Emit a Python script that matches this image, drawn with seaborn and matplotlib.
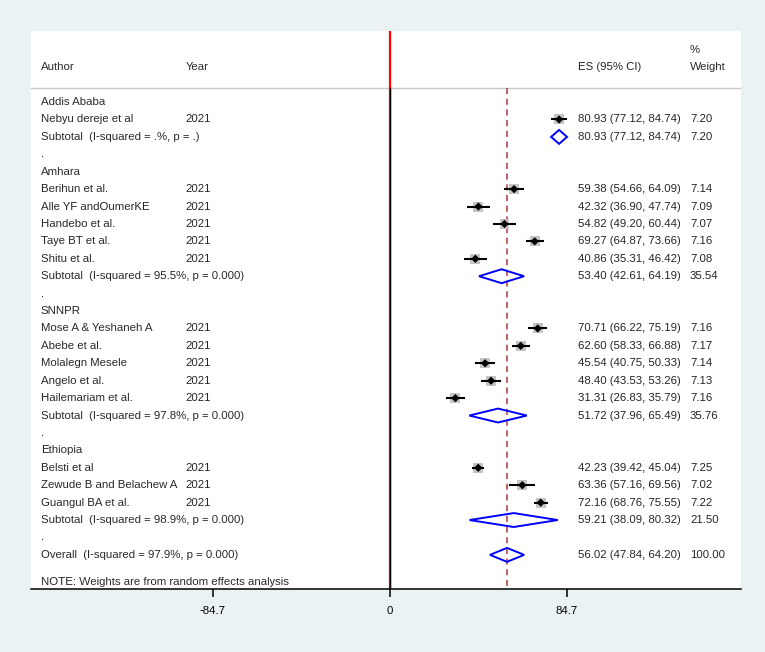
import matplotlib
matplotlib.use("Agg")
import matplotlib.pyplot as plt
from matplotlib.patches import Polygon
import numpy as np
import pandas as pd
import seaborn as sns

# === data ===
GROUPS = ["Addis Ababa", "Amhara", "SNNPR", "Ethiopia"]

STUDY_GROUP = [0, 1, 1, 1, 1, 1, 2, 2, 2, 2, 2, 3, 3, 3]
STUDY_AUTHOR = ["Nebyu dereje et al",
                "Berihun et al.", "Alle YF andOumerKE", "Handebo et al.", "Taye BT et al.", "Shitu et al.",
                "Mose A & Yeshaneh A", "Abebe et al.", "Molalegn Mesele", "Angelo et al.", "Hailemariam et al.",
                "Belsti et al", "Zewude B and Belachew A", "Guangul BA et al."]
STUDY_YEAR = ["2021"] * 14
STUDY_ES = [80.93, 59.38, 42.32, 54.82, 69.27, 40.86, 70.71, 62.60, 45.54, 48.40, 31.31, 42.23, 63.36, 72.16]
STUDY_LO = [77.12, 54.66, 36.90, 49.20, 64.87, 35.31, 66.22, 58.33, 40.75, 43.53, 26.83, 39.42, 57.16, 68.76]
STUDY_HI = [84.74, 64.09, 47.74, 60.44, 73.66, 46.42, 75.19, 66.88, 50.33, 53.26, 35.79, 45.04, 69.56, 75.55]
STUDY_W = [7.20, 7.14, 7.09, 7.07, 7.16, 7.08, 7.16, 7.17, 7.14, 7.13, 7.16, 7.25, 7.02, 7.22]

SUB_LABEL = ["Subtotal  (I-squared = .%, p = .)",
             "Subtotal  (I-squared = 95.5%, p = 0.000)",
             "Subtotal  (I-squared = 97.8%, p = 0.000)",
             "Subtotal  (I-squared = 98.9%, p = 0.000)"]
SUB_ES = [80.93, 53.40, 51.72, 59.21]
SUB_LO = [77.12, 42.61, 37.96, 38.09]
SUB_HI = [84.74, 64.19, 65.49, 80.32]
SUB_W = [7.20, 35.54, 35.76, 21.50]

OVERALL_LABEL = "Overall  (I-squared = 97.9%, p = 0.000)"
OVERALL_ES, OVERALL_LO, OVERALL_HI, OVERALL_W = 56.02, 47.84, 64.20, 100.00

XTICKS = [-84.7, 0, 84.7]
XTICK_LABELS = ["-84.7", "0", "84.7"]

# === layout (Stata-like) ===
BG = "#eaf2f3"
FONT = 8.2
XLIM = (-171.8, 168.0)
YLIM = (27.96, -4.08)
X_AUTHOR, X_YEAR, X_ES, X_W = -167.1, -97.8, 89.8, 143.6

sns.set_style("white")
plt.rcParams["font.family"] = ["Liberation Sans", "DejaVu Sans"]
plt.rcParams["font.size"] = FONT
plt.rcParams["text.hinting"] = "native"

# build row table
rows = []
r = 0
for g, gname in enumerate(GROUPS):
    rows.append(dict(row=r, kind="group", label=gname))
    r += 1
    for i in range(len(STUDY_AUTHOR)):
        if STUDY_GROUP[i] != g:
            continue
        rows.append(dict(row=r, kind="study", label=STUDY_AUTHOR[i], year=STUDY_YEAR[i],
                         es=STUDY_ES[i], lo=STUDY_LO[i], hi=STUDY_HI[i], w=STUDY_W[i]))
        r += 1
    rows.append(dict(row=r, kind="sub", label=SUB_LABEL[g],
                     es=SUB_ES[g], lo=SUB_LO[g], hi=SUB_HI[g], w=SUB_W[g]))
    r += 1
    rows.append(dict(row=r, kind="blank", label="."))
    r += 1
rows.append(dict(row=r, kind="sub", label=OVERALL_LABEL,
                 es=OVERALL_ES, lo=OVERALL_LO, hi=OVERALL_HI, w=OVERALL_W))
df = pd.DataFrame(rows)
studies = df[df["kind"] == "study"]
pooled = df[df["kind"] == "sub"]


def put(x, y, s):
    ax.text(x, y, s, va="center", ha="left")


fig = plt.figure(figsize=(7.65, 6.52), dpi=100, facecolor=BG)
ax = fig.add_axes([31 / 765, 1 - 589 / 652, 710 / 765, 558 / 652])
ax.set_facecolor("white")
ax.set_xlim(*XLIM)
ax.set_ylim(*YLIM)

# header
put(X_AUTHOR, -2.0, "Author")
put(X_YEAR, -2.0, "Year")
put(X_ES, -2.0, "ES (95% CI)")
put(X_W, -3.0, "%")
put(X_W, -2.0, "Weight")
ax.axhline(-0.8, color="#c8c8c8", lw=1.0, zorder=1)

# null line and overall line
ax.vlines(0, YLIM[1], YLIM[0], color="red", lw=1.6, zorder=2)
ax.vlines(0, -0.8, YLIM[0], color="black", lw=1.0, zorder=3)
ax.vlines(OVERALL_ES, -0.8, YLIM[0], color="#b0383f", lw=1.1,
          linestyles=(0, (4, 3)), zorder=2)

# study CIs, weight boxes and point estimates
ax.hlines(studies["row"], studies["lo"], studies["hi"], color="black", lw=1.5, zorder=5)
wmin, wmax = studies["w"].min(), studies["w"].max()
sns.scatterplot(data=studies, x="es", y="row", size="w", size_norm=(wmin, wmax),
                sizes=(52 * wmin / 7.15, 52 * wmax / 7.15), marker="s",
                color="#c4c4c4", edgecolor="none", legend=False, ax=ax, zorder=4)
sns.scatterplot(data=studies, x="es", y="row", marker="D", s=18, color="black",
                edgecolor="none", legend=False, ax=ax, zorder=6)

# pooled diamonds
h = 0.40
for _, p in pooled.iterrows():
    ax.add_patch(Polygon([(p["lo"], p["row"]), (p["es"], p["row"] - h),
                          (p["hi"], p["row"]), (p["es"], p["row"] + h)],
                         closed=True, fill=False, edgecolor="#0000ff", lw=1.4, zorder=6))

# text columns
for _, p in df.iterrows():
    put(X_AUTHOR, p["row"], p["label"])
    if p["kind"] == "study":
        put(X_YEAR, p["row"], p["year"])
    if p["kind"] in ("study", "sub"):
        put(X_ES, p["row"], f"{p['es']:.2f} ({p['lo']:.2f}, {p['hi']:.2f})")
        put(X_W, p["row"], f"{p['w']:.2f}")

put(X_AUTHOR, r + 1.55, "NOTE: Weights are from random effects analysis")

# axis
for s in ["top", "left", "right"]:
    ax.spines[s].set_visible(False)
ax.spines["bottom"].set_color("black")
ax.spines["bottom"].set_linewidth(1.1)
ax.set_yticks([])
ax.set_xticks(XTICKS)
ax.set_xticklabels(XTICK_LABELS, fontsize=FONT)
ax.tick_params(axis="x", direction="out", length=6, width=1.1, pad=6, colors="black", bottom=True)
ax.set_xlabel("")
ax.set_ylabel("")

fig.savefig("out.png", dpi=100, facecolor=BG)
